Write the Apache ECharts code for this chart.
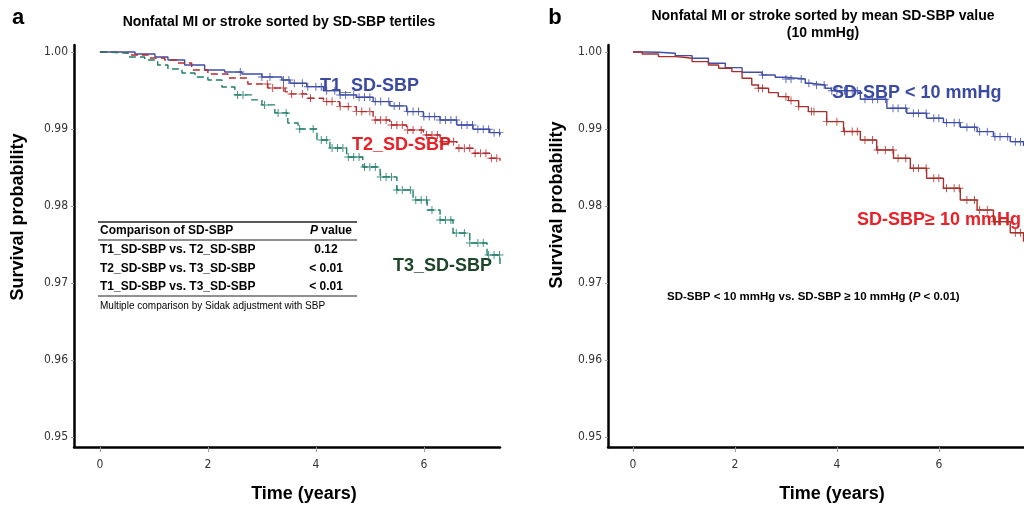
<!DOCTYPE html>
<html>
<head>
<meta charset="utf-8">
<script src="https://cdn.jsdelivr.net/npm/echarts@6/dist/echarts.min.js"></script>
<style>html,body{margin:0;padding:0;background:#fff;}#c{width:1024px;height:507px;}</style>
</head>
<body>
<div id="c"></div>
<script>
// ---------- data ----------
// Panel a: Kaplan-Meier curves by SD-SBP tertile
const t1Time = [0, 0.65, 1.02, 1.26, 1.57, 1.94, 2.31, 2.63, 3.00, 3.37, 3.52, 3.83, 4.14, 4.44, 4.75, 5.06, 5.37, 5.68, 5.99, 6.30, 6.61, 6.91, 7.22, 7.41];
const t1Surv = [1.0, 0.99974, 0.99935, 0.99896, 0.99831, 0.99766, 0.99740, 0.99714, 0.99675, 0.99636, 0.99594, 0.99549, 0.99497, 0.99442, 0.99412, 0.99355, 0.99299, 0.99225, 0.99160, 0.99117, 0.99052, 0.98996, 0.98952, 0.98922];
const t2Time = [0, 0.15, 0.52, 0.89, 1.20, 1.44, 1.70, 2.00, 2.37, 2.74, 3.11, 3.43, 3.52, 3.83, 4.14, 4.44, 4.75, 5.06, 5.37, 5.68, 5.99, 6.30, 6.61, 6.91, 7.22, 7.41];
const t2Surv = [1.0, 0.99987, 0.99961, 0.99922, 0.99896, 0.99857, 0.99766, 0.99714, 0.99662, 0.99584, 0.99532, 0.99481, 0.99455, 0.99399, 0.99355, 0.99290, 0.99225, 0.99117, 0.99052, 0.98987, 0.98922, 0.98835, 0.98749, 0.98684, 0.98619, 0.98588];
const t3Time = [0, 0.09, 0.52, 0.83, 1.07, 1.26, 1.52, 1.76, 2.00, 2.26, 2.50, 2.81, 3.00, 3.24, 3.48, 3.67, 4.02, 4.26, 4.57, 4.87, 5.19, 5.50, 5.80, 6.06, 6.30, 6.54, 6.85, 7.17, 7.41];
const t3Surv = [1.0, 0.99987, 0.99935, 0.99896, 0.99831, 0.99779, 0.99727, 0.99675, 0.99636, 0.99545, 0.99442, 0.99377, 0.99312, 0.99208, 0.99078, 0.99000, 0.98857, 0.98753, 0.98636, 0.98506, 0.98377, 0.98208, 0.98078, 0.97948, 0.97818, 0.97649, 0.97519, 0.97364, 0.97247];
const t1Censor = [2.6, 3.0, 3.15, 3.4, 3.5, 3.6, 3.75, 3.85, 4.0, 4.1, 4.2, 4.35, 4.45, 4.55, 4.7, 4.8, 4.9, 5.0, 5.1, 5.2, 5.35, 5.45, 5.55, 5.7, 5.8, 5.9, 6.0, 6.1, 6.2, 6.3, 6.4, 6.5, 6.6, 6.7, 6.8, 6.9, 7.0, 7.1, 7.2, 7.3, 7.4];
const t2Censor = [3.1, 3.2, 3.4, 3.55, 3.75, 3.9, 4.2, 4.3, 4.45, 4.6, 4.75, 4.85, 5.0, 5.1, 5.2, 5.3, 5.4, 5.5, 5.6, 5.7, 5.8, 5.95, 6.05, 6.15, 6.25, 6.35, 6.45, 6.55, 6.65, 6.75, 6.85, 6.95, 7.05, 7.15, 7.25, 7.35];
const t3Censor = [2.55, 2.65, 3.05, 3.3, 3.45, 3.7, 3.95, 4.1, 4.2, 4.3, 4.4, 4.5, 4.6, 4.7, 4.8, 4.9, 5.0, 5.1, 5.2, 5.3, 5.4, 5.5, 5.6, 5.75, 5.85, 5.95, 6.05, 6.15, 6.3, 6.4, 6.5, 6.6, 6.75, 6.85, 7.0, 7.1, 7.2, 7.3, 7.4];

// Panel b: SD-SBP < 10 vs >= 10 mmHg
const lowTime = [0, 0.24, 0.50, 0.83, 1.16, 1.48, 1.81, 2.14, 2.53, 2.79, 2.99, 3.38, 3.48, 3.77, 3.89, 4.46, 4.98, 5.37, 5.76, 6.09, 6.42, 6.75, 7.07, 7.40, 7.66];
const lowSurv = [1.0, 0.99996, 0.99983, 0.99952, 0.99918, 0.99853, 0.99796, 0.99736, 0.99701, 0.99671, 0.99649, 0.99593, 0.99571, 0.99528, 0.99497, 0.99386, 0.99269, 0.99204, 0.99139, 0.99082, 0.99022, 0.98965, 0.98900, 0.98835, 0.98779];
const highTime = [0, 0.18, 0.50, 0.83, 0.99, 1.16, 1.48, 1.68, 1.94, 2.14, 2.33, 2.46, 2.66, 2.85, 3.05, 3.25, 3.44, 3.80, 4.13, 4.46, 4.78, 5.11, 5.44, 5.76, 6.09, 6.42, 6.75, 7.07, 7.40, 7.66];
const highSurv = [1.0, 0.99974, 0.99939, 0.99931, 0.99918, 0.99874, 0.99831, 0.99788, 0.99744, 0.99658, 0.99571, 0.99528, 0.99471, 0.99419, 0.99368, 0.99290, 0.99225, 0.99095, 0.98966, 0.98857, 0.98727, 0.98619, 0.98490, 0.98360, 0.98230, 0.98078, 0.97948, 0.97796, 0.97653, 0.97536];
const lowCensor = [2.54, 3.0, 3.1, 3.3, 3.45, 3.6, 3.75, 3.9, 4.0, 4.15, 4.3, 4.4, 4.55, 4.7, 4.8, 4.95, 5.1, 5.2, 5.35, 5.5, 5.6, 5.75, 5.9, 6.0, 6.15, 6.3, 6.4, 6.55, 6.7, 6.8, 6.95, 7.1, 7.2, 7.35, 7.5, 7.6];
const highCensor = [2.46, 2.54, 3.0, 3.1, 3.25, 3.5, 3.55, 3.8, 4.0, 4.15, 4.3, 4.4, 4.55, 4.7, 4.8, 4.95, 5.1, 5.2, 5.35, 5.5, 5.6, 5.75, 5.9, 6.0, 6.15, 6.3, 6.4, 6.55, 6.7, 6.8, 6.95, 7.1, 7.2, 7.35, 7.5, 7.6];

// tick labels
const yTicks = [0.95, 0.96, 0.97, 0.98, 0.99, 1.00];
const xTicks = [0, 2, 4, 6];

// table text
const tableHeader = ['Comparison of SD-SBP', 'value'];
const comparisons = ['T1_SD-SBP vs. T2_SD-SBP', 'T2_SD-SBP vs. T3_SD-SBP', 'T1_SD-SBP vs. T3_SD-SBP'];
const pValues = ['0.12', '< 0.01', '< 0.01'];
const tableNote = 'Multiple comparison by Sidak adjustment with SBP';

// ---------- helpers ----------
const pair = (ts, ss) => ts.map((t, i) => [t, ss[i]]);
function stepAt(ts, ss, t) { let v = ss[0]; for (let i = 0; i < ts.length; i++) { if (ts[i] <= t) v = ss[i]; } return v; }
const censorPts = (ts, ss, cs) => cs.map(c => [c, stepAt(ts, ss, c)]);

const FONT = "'Liberation Sans', Arial, Helvetica, sans-serif";
const NARROW = "'Liberation Sans Narrow', 'DejaVu Sans Condensed', 'Liberation Sans', sans-serif";
const PLUS = 'path://M4.4,0H5.6V4.4H10V5.6H5.6V10H4.4V5.6H0V4.4H4.4Z';

const C_BLUE = '#3f4ea6', C_RED = '#b8282c', C_GREEN = '#1f7d6c';
const C_RED2 = '#a9302a';

function xAxisDef(idx, min, max) {
  return {
    type: 'value', gridIndex: idx, min: min, max: max,
    axisLine: { show: true, onZero: false, lineStyle: { color: '#000', width: 2.5 } },
    axisTick: { show: true, customValues: xTicks, length: 5, lineStyle: { color: '#999', width: 1 } },
    axisLabel: { customValues: xTicks, color: '#333', fontSize: 12, fontFamily: NARROW, margin: 12 },
    splitLine: { show: false }
  };
}
function yAxisDef(idx) {
  return {
    type: 'value', gridIndex: idx, min: 0.9487, max: 1.0009,
    axisLine: { show: true, onZero: false, lineStyle: { color: '#000', width: 2.5 } },
    axisTick: { show: true, customValues: yTicks, length: 3, lineStyle: { color: '#999', width: 1 } },
    axisLabel: { customValues: yTicks, color: '#333', fontSize: 12, fontFamily: NARROW, margin: 6,
                 formatter: v => v.toFixed(2) },
    splitLine: { show: false }
  };
}
function curve(name, xi, data, color, dashed) {
  return { name, type: 'line', xAxisIndex: xi, yAxisIndex: xi, data, step: 'end', showSymbol: false, symbol: 'none',
           lineStyle: { color, width: 1.4, type: dashed ? [7, 4] : 'solid' }, z: 3, silent: true };
}
function marks(name, xi, data, color) {
  return { name: name + ' censored', type: 'scatter', xAxisIndex: xi, yAxisIndex: xi, data, symbol: PLUS, symbolSize: 8,
           itemStyle: { color, opacity: 0.85 }, z: 4, silent: true };
}

const chart = echarts.init(document.getElementById('c'));
const txt = (x, y, text, size, color, opts) => Object.assign({
  type: 'text', x, y, style: Object.assign({ text, fontSize: size, fontWeight: 'bold', fill: color, fontFamily: FONT,
    align: 'left', verticalAlign: 'middle' }, opts && opts.style || {}) }, opts && opts.el || {});

const graphics = [
  txt(18, 18, 'a', 22, '#000', { style: { align: 'center' } }),
  txt(279, 22, 'Nonfatal MI or stroke sorted by SD-SBP tertiles', 14, '#000', { style: { align: 'center' } }),
  txt(555, 18, 'b', 22, '#000', { style: { align: 'center' } }),
  txt(823, 16, 'Nonfatal MI or stroke sorted by mean SD-SBP value', 14, '#000', { style: { align: 'center' } }),
  txt(823, 33, '(10 mmHg)', 14, '#000', { style: { align: 'center' } }),
  // axis titles
  { type: 'text', x: 18, y: 217, rotation: Math.PI / 2,
    style: { text: 'Survival probability', fontSize: 18, fontWeight: 'bold', fill: '#000', fontFamily: FONT, align: 'center', verticalAlign: 'middle' } },
  { type: 'text', x: 557, y: 205, rotation: Math.PI / 2,
    style: { text: 'Survival probability', fontSize: 18, fontWeight: 'bold', fill: '#000', fontFamily: FONT, align: 'center', verticalAlign: 'middle' } },
  txt(304, 494, 'Time (years)', 18, '#000', { style: { align: 'center' } }),
  txt(832, 494, 'Time (years)', 18, '#000', { style: { align: 'center' } }),
  // curve labels
  txt(320, 86, 'T1_SD-SBP', 18, '#3a4aa2'),
  txt(352, 145, 'T2_SD-SBP', 18, '#e82228'),
  txt(393, 266, 'T3_SD-SBP', 18, '#1d4528'),
  txt(832, 93, 'SD-SBP < 10 mmHg', 18, '#3a4aa2'),
  txt(857, 220, 'SD-SBP\u2265 10 mmHg', 18, '#e82228'),
  { type: 'text', x: 667, y: 297,
    style: { text: '{b|SD-SBP < 10 mmHg vs. SD-SBP \u2265 10 mmHg (}{i|P}{b| < 0.01)}', fontFamily: FONT, verticalAlign: 'middle',
      rich: { b: { fontSize: 11.5, fontWeight: 'bold', fill: '#000', fontFamily: FONT },
              i: { fontSize: 11.5, fontWeight: 'bold', fontStyle: 'italic', fill: '#000', fontFamily: FONT } } } },
  // table lines
  { type: 'line', shape: { x1: 98, y1: 222, x2: 357, y2: 222 }, style: { stroke: '#222', lineWidth: 1.5 } },
  { type: 'line', shape: { x1: 98, y1: 240, x2: 357, y2: 240 }, style: { stroke: '#222', lineWidth: 1.2 } },
  { type: 'line', shape: { x1: 98, y1: 296, x2: 357, y2: 296 }, style: { stroke: '#222', lineWidth: 1.2 } },
  txt(100, 231, tableHeader[0], 12, '#000'),
  { type: 'text', x: 352, y: 231,
    style: { text: '{i|P} {b|' + tableHeader[1] + '}', align: 'right', verticalAlign: 'middle', fontFamily: FONT,
      rich: { b: { fontSize: 12, fontWeight: 'bold', fill: '#000', fontFamily: FONT },
              i: { fontSize: 12, fontWeight: 'bold', fontStyle: 'italic', fill: '#000', fontFamily: FONT } } } },
  txt(100, 306, tableNote, 10, '#000', { style: { fontWeight: 'normal' } })
];
comparisons.forEach((c, i) => {
  const y = 250 + i * 18.5;
  graphics.push(txt(100, y, c, 12, '#000'));
  graphics.push(txt(326, y, pValues[i], 12, '#000', { style: { align: 'center' } }));
});

chart.setOption({
  animation: false,
  backgroundColor: '#fff',
  grid: [
    { left: 74, right: 524, top: 45, bottom: 60, outerBoundsMode: 'none', containLabel: false },
    { left: 608, right: 0, top: 45, bottom: 60, outerBoundsMode: 'none', containLabel: false }
  ],
  xAxis: [xAxisDef(0, -0.48, 7.41), xAxisDef(1, -0.49, 7.67)],
  yAxis: [yAxisDef(0), yAxisDef(1)],
  series: [
    curve('T1_SD-SBP', 0, pair(t1Time, t1Surv), C_BLUE, false),
    curve('T2_SD-SBP', 0, pair(t2Time, t2Surv), C_RED, true),
    curve('T3_SD-SBP', 0, pair(t3Time, t3Surv), C_GREEN, true),
    marks('T1_SD-SBP', 0, censorPts(t1Time, t1Surv, t1Censor), C_BLUE),
    marks('T2_SD-SBP', 0, censorPts(t2Time, t2Surv, t2Censor), C_RED),
    marks('T3_SD-SBP', 0, censorPts(t3Time, t3Surv, t3Censor), C_GREEN),
    curve('SD-SBP < 10 mmHg', 1, pair(lowTime, lowSurv), C_BLUE, false),
    curve('SD-SBP >= 10 mmHg', 1, pair(highTime, highSurv), C_RED2, false),
    marks('SD-SBP < 10 mmHg', 1, censorPts(lowTime, lowSurv, lowCensor), C_BLUE),
    marks('SD-SBP >= 10 mmHg', 1, censorPts(highTime, highSurv, highCensor), C_RED2)
  ],
  graphic: graphics
});
</script>
</body>
</html>
